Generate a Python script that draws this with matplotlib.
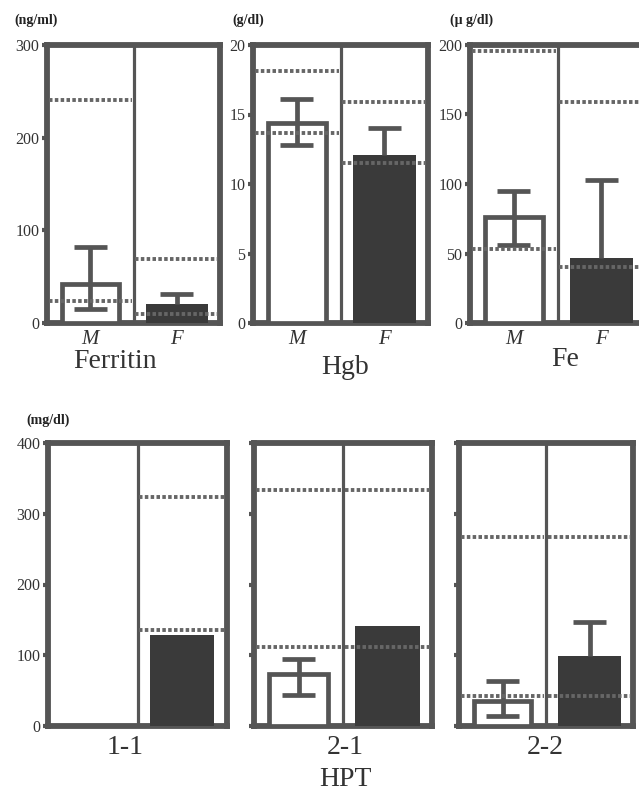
import numpy as np
import matplotlib
matplotlib.use("Agg")
import matplotlib.pyplot as plt

plt.rcParams['font.family'] = ['Liberation Serif', 'DejaVu Serif']

# ---------------- data ----------------
top_names = ["Ferritin", "Hgb", "Fe"]
top_units = ["(ng/ml)", "(g/dl)", "(\u03bc g/dl)"]
top_ymax = [300, 20, 200]
top_ticks = [[0, 100, 200, 300], [0, 5, 10, 15, 20], [0, 50, 100, 150, 200]]
top_M_mean = [42, 14.4, 76]
top_M_low = [15, 12.8, 56]
top_M_high = [82, 16.1, 95]
top_F_mean = [21, 12.1, 47]
top_F_high = [31.5, 14.0, 103]
top_M_ref = [(24, 241), (13.7, 18.1), (53.5, 196)]
top_F_ref = [(10, 69), (11.5, 15.9), (40, 159)]

hpt_types = ["1-1", "2-1", "2-2"]
hpt_unit = "(mg/dl)"
hpt_ymax = 400
hpt_ticks = [0, 100, 200, 300, 400]
hpt_M_mean = [np.nan, 73, 36]
hpt_M_low = [np.nan, 44, 14]
hpt_M_high = [np.nan, 95, 64]
hpt_F_mean = [128, 142, 99]
hpt_F_high = [np.nan, np.nan, 147]
hpt_M_ref = [None, (111, 333), (43, 267)]
hpt_F_ref = [(135, 324), (111, 333), (43, 267)]

# ---------------- style ----------------
W, H = 639, 795
GRAY = '#555555'
DARK = '#3a3a3a'
DOT = '#666666'
CAP = 0.19  # half cap width in data units
fig = plt.figure(figsize=(W / 100, H / 100), dpi=100)


def px_axes(x0, y0, x1, y1):
    return fig.add_axes([x0 / W, 1 - y1 / H, (x1 - x0) / W, (y1 - y0) / H])


def ftext(x, y, s, **kw):
    fig.text(x / W, 1 - y / H, s, ha='center', va='center', **kw)


def draw_panel(ax, ymax, ticks, show_labels, m_mean, m_low, m_high, f_mean, f_high,
               m_ref, f_ref):
    ax.set_xlim(0, 2)
    ax.set_ylim(0, ymax)
    for sp in ax.spines.values():
        sp.set_linewidth(4.2)
        sp.set_color(GRAY)
    ax.set_xticks([])
    ax.set_yticks(ticks)
    ax.tick_params(axis='y', direction='out', length=3.5, width=3, color=GRAY,
                   labelsize=11.5, labelcolor='#333333', pad=2)
    if not show_labels:
        ax.set_yticklabels([])
    ax.axvline(1, color=GRAY, lw=2.3, zorder=2)
    lkw = dict(color=GRAY, lw=3.4, zorder=4, solid_capstyle='butt')
    # M bar (hollow) with two-sided whiskers
    if not np.isnan(m_mean):
        ax.bar(0.5, m_mean, width=0.66, facecolor='white', edgecolor=GRAY,
               linewidth=3.4, zorder=3)
        ax.plot([0.5, 0.5], [m_low, m_high], **lkw)
        ax.plot([0.5 - CAP, 0.5 + CAP], [m_high, m_high], **lkw)
        ax.plot([0.5 - CAP, 0.5 + CAP], [m_low, m_low], **lkw)
    # F bar (filled) with upper whisker only
    if not np.isnan(f_mean):
        ax.bar(1.5, f_mean, width=0.72, color=DARK, zorder=3)
        if not np.isnan(f_high):
            ax.plot([1.5, 1.5], [f_mean, f_high], **lkw)
            ax.plot([1.5 - CAP, 1.5 + CAP], [f_high, f_high], **lkw)
    # reference ranges (dotted)
    dkw = dict(color=DOT, lw=2.8, dashes=(0.9, 0.6), zorder=5)
    if m_ref is not None:
        for v in m_ref:
            ax.plot([0.02, 0.98], [v, v], **dkw)
    if f_ref is not None:
        for v in f_ref:
            ax.plot([1.02, 1.98], [v, v], **dkw)


# ---------------- top row ----------------
top_x = [(47, 220), (253, 428), (470, 645)]
top_y = (45, 323)
unit_x = [36, 248, 472]
title_pos = [(115, 362), (345, 368), (565, 360)]
for i in range(3):
    x0, x1 = top_x[i]
    ax = px_axes(x0, top_y[0], x1, top_y[1])
    draw_panel(ax, top_ymax[i], top_ticks[i], True,
               top_M_mean[i], top_M_low[i], top_M_high[i],
               top_F_mean[i], top_F_high[i], top_M_ref[i], top_F_ref[i])
    ftext(unit_x[i], 20, top_units[i], fontsize=10, fontweight='bold', color='#222222')
    mid = (x0 + x1) / 2
    ftext((x0 + mid) / 2, 340, "M", fontsize=15, style='italic', color='#333333')
    ftext((mid + x1) / 2, 340, "F", fontsize=15, style='italic', color='#333333')
    ftext(title_pos[i][0], title_pos[i][1], top_names[i], fontsize=20, color='#333333')

# ---------------- bottom row ----------------
bot_x = [(48, 227), (254, 432), (459, 633)]
bot_y = (443, 726)
bot_title_x = [125, 345, 545]
for i in range(3):
    x0, x1 = bot_x[i]
    ax = px_axes(x0, bot_y[0], x1, bot_y[1])
    draw_panel(ax, hpt_ymax, hpt_ticks, i == 0,
               hpt_M_mean[i], hpt_M_low[i], hpt_M_high[i],
               hpt_F_mean[i], hpt_F_high[i], hpt_M_ref[i], hpt_F_ref[i])
    ftext(bot_title_x[i], 748, hpt_types[i], fontsize=20, color='#333333')
ftext(48, 420, hpt_unit, fontsize=10, fontweight='bold', color='#222222')
ftext(345, 779, "HPT", fontsize=20, color='#333333')

fig.savefig("out.png", dpi=100)
